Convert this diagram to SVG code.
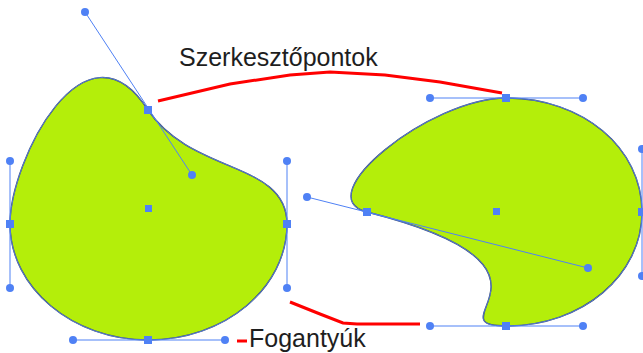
<svg xmlns="http://www.w3.org/2000/svg" width="643" height="353" viewBox="0 0 643 353">
<style>
.shape{fill:#b4ee0a;stroke:#3c4c70;stroke-width:1.4}
.outline{fill:none;stroke:#5b86ee;stroke-width:0.8}
.h{stroke:#4f81f5;stroke-width:1;fill:none}
.dot{fill:#4f81f5}
.sq{fill:#4f81f5}
.red{fill:none;stroke:#ff0000;stroke-width:3}
.lbl{font-family:"Liberation Sans",Arial,sans-serif;font-size:25px;fill:#1e1e1e}
</style>
<rect width="643" height="353" fill="#fff"/>
<g id="shape-left">
<path class="shape" d="M148,340 C73,340 10,288 10,224 C10,161 85,12 148,110 C192,175 287,161 287,224 C287,288 225,340 148,340 Z"/>
<path class="outline" d="M148,340 C73,340 10,288 10,224 C10,161 85,12 148,110 C192,175 287,161 287,224 C287,288 225,340 148,340 Z"/>
<g>
<line class="h" x1="85" y1="12" x2="192" y2="175"/>
<line class="h" x1="10" y1="161" x2="10" y2="288"/>
<line class="h" x1="287" y1="161" x2="287" y2="288"/>
<line class="h" x1="73" y1="340" x2="225" y2="340"/>
<circle class="dot" cx="85" cy="12" r="4"/>
<circle class="dot" cx="192" cy="175" r="4"/>
<circle class="dot" cx="10" cy="161" r="4"/>
<circle class="dot" cx="10" cy="288" r="4"/>
<circle class="dot" cx="287" cy="161" r="4"/>
<circle class="dot" cx="287" cy="288" r="4"/>
<circle class="dot" cx="73" cy="340" r="4"/>
<circle class="dot" cx="225" cy="340" r="4"/>
<rect class="sq" x="144" y="106" width="8" height="8"/>
<rect class="sq" x="6" y="220" width="8" height="8"/>
<rect class="sq" x="283" y="220" width="8" height="8"/>
<rect class="sq" x="144" y="336" width="8" height="8"/>
<rect class="sq" x="145" y="205" width="7" height="7"/>
</g>
</g>
<g id="shape-right">
<path class="shape" d="M506,98 C583,98 642,148 642,212 C642,275 583,326 506,326 C430,326 588,268 367,212 C307,197 430,98 506,98 Z"/>
<path class="outline" d="M506,98 C583,98 642,148 642,212 C642,275 583,326 506,326 C430,326 588,268 367,212 C307,197 430,98 506,98 Z"/>
<g>
<line class="h" x1="430" y1="98" x2="583" y2="98"/>
<line class="h" x1="430" y1="326" x2="583" y2="326"/>
<line class="h" x1="642" y1="148" x2="642" y2="275"/>
<line class="h" x1="307" y1="197" x2="588" y2="268"/>
<circle class="dot" cx="430" cy="98" r="4"/>
<circle class="dot" cx="583" cy="98" r="4"/>
<circle class="dot" cx="430" cy="326" r="4"/>
<circle class="dot" cx="583" cy="326" r="4"/>
<circle class="dot" cx="642" cy="149" r="4"/>
<circle class="dot" cx="642" cy="276" r="4"/>
<circle class="dot" cx="307" cy="197" r="4"/>
<circle class="dot" cx="588" cy="268" r="4"/>
<rect class="sq" x="502" y="94" width="8" height="8"/>
<rect class="sq" x="502" y="322" width="8" height="8"/>
<rect class="sq" x="638" y="208" width="8" height="8"/>
<rect class="sq" x="363" y="208" width="8" height="8"/>
<rect class="sq" x="493" y="208" width="7" height="7"/>
</g>
</g>
<g id="connectors">
<polyline class="red" points="158,101 230,84 290,75 330,72 385,75 440,82 502,93"/>
<polyline class="red" points="290,302 320,314 343,323 357,324 420,324"/>
<line class="red" x1="237" y1="341" x2="247" y2="341"/>
</g>
<g id="labels">
<text class="lbl" x="179" y="66">Szerkesztőpontok</text>
<text class="lbl" x="249" y="347">Fogantyúk</text>
</g>
</svg>
